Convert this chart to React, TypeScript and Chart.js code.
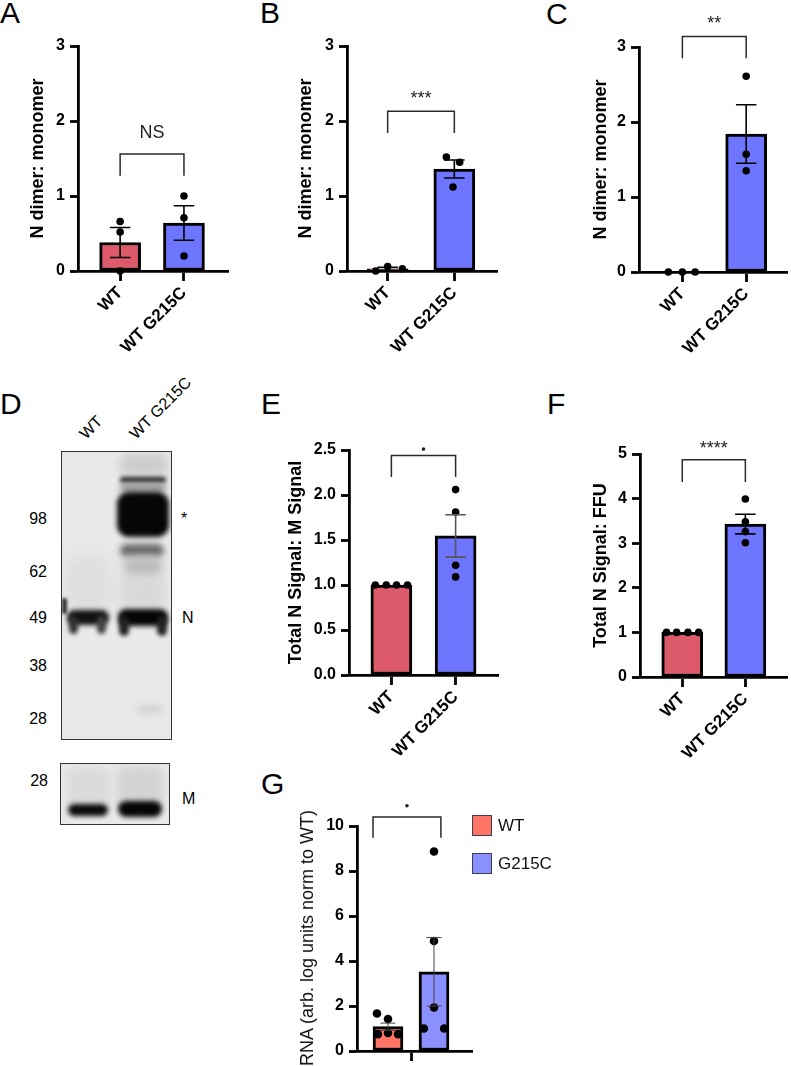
import { useEffect, useRef } from 'react'
import { Chart, registerables } from 'chart.js'
Chart.register(...registerables)

const FONT = '"Liberation Sans", Arial, Helvetica, sans-serif'
Chart.defaults.font.family = FONT
Chart.defaults.color = '#000'

const RED = '#DC5A69'
const BLUE = '#6E76FF'
const SALMON = '#FF7464'
const PERI = '#8A90FF'

// x position 1 = WT, 2 = WT G215C
const categories = ['WT', 'WT G215C']

// A
const aMeans = [0.38, 0.64]
const aSem = [0.2, 0.23]
const aWT = [0.66, 0.52, 0.0]
const aMut = [1.0, 0.71, 0.2]
const aWTJit = [0, 0, 0]
const aMutJit = [0, 0, 0]
const aSig = { top: 1.56, leg: 1.27, label: 'NS', labelY: 1.84 }

// B
const bMeans = [0.03, 1.36]
const bSem = [0.02, 0.12]
const bWT = [0.0, 0.06, 0.03]
const bMut = [1.52, 1.45, 1.12]
const bWTJit = [-0.18, 0, 0.22]
const bMutJit = [-0.12, 0.08, -0.02]
const bSig = { top: 2.13, leg: 1.84, label: '***', labelY: 2.35 }

// C
const cMeans = [0, 1.84]
const cSem = [0, 0.39]
const cWT = [0, 0, 0]
const cMut = [2.61, 1.57, 1.35]
const cWTJit = [-0.22, 0, 0.2]
const cMutJit = [0, 0, 0]
const cSig = { top: 3.14, leg: 2.85, label: '**', labelY: 3.36 }

// E
const eMeans = [1.0, 1.545]
const eSem = [0, 0.235]
const eWT = [1, 1, 1, 1]
const eMut = [2.06, 1.81, 1.22, 1.09]
const eWTJit = [-0.25, -0.08, 0.08, 0.25]
const eMutJit = [0, 0, 0, 0]
const eSig = { top: 2.44, leg: 2.2, label: '·', labelY: 2.51 }

// F
const fMeans = [1.0, 3.43]
const fSem = [0, 0.22]
const fWT = [1, 1, 1, 1]
const fMut = [3.99, 3.48, 3.26, 3.01]
const fWTJit = [-0.25, -0.09, 0.09, 0.26]
const fMutJit = [0, 0, 0, 0]
const fSig = { top: 4.87, leg: 4.37, label: '****', labelY: 5.2 }

// G
const gMeans = [1.08, 3.52]
const gSem = [0.16, 1.52]
const gWT = [1.67, 1.42, 0.75, 0.8, 0.75]
const gMut = [8.87, 4.89, 1.93, 1.0, 1.0]
const gWTJit = [-0.24, 0, -0.22, 0, 0.22]
const gMutJit = [0, 0, 0, -0.22, 0.22]
const gSig = { top: 10.4, leg: 9.48, label: '·', labelY: 10.9, from: 0.674, to: 2.15 }

// blot marker ladder (kDa)
const ladder = ['98', '62', '49', '38', '28']
const ladderY = [519, 572, 618, 666, 719]

interface Sig { top: number; leg: number; label: string; labelY: number; from?: number; to?: number }

interface PanelProps {
  left: number; top: number; width: number; height: number
  area: [number, number, number, number]
  xRange: [number, number]
  xTicks: number[]; xLabels: string[]
  yMax: number; yStep: number; yDec: number
  title?: string; titleX?: number
  means: number[]; sem: number[]
  points: number[][]; jitter: number[][]
  colors: string[]
  barWidth: number; dot: number
  errColor: string; errWidth: number
  sig: Sig
}

function BarPanel(p: PanelProps) {
  const ref = useRef<HTMLCanvasElement>(null)

  useEffect(() => {
    if (!ref.current) return
    const [l, t, r, b] = p.area
    const yW = l - p.left
    const xH = p.top + p.height - b

    const overlay = {
      id: 'overlay',
      afterDatasetsDraw(chart: any) {
        const ctx = chart.ctx
        const xs = chart.scales.x, ys = chart.scales.y
        ctx.save()
        // error bars (mean ± SEM)
        ctx.strokeStyle = p.errColor
        ctx.lineWidth = p.errWidth
        const cap = p.barWidth / 4
        p.means.forEach((m, i) => {
          const s = p.sem[i]
          if (!s) return
          const cx = xs.getPixelForValue(i + 1)
          const y1 = ys.getPixelForValue(m + s)
          const y0 = ys.getPixelForValue(Math.max(0, m - s))
          ctx.beginPath()
          ctx.moveTo(cx, y0); ctx.lineTo(cx, y1)
          ctx.moveTo(cx - cap, y1); ctx.lineTo(cx + cap, y1)
          ctx.moveTo(cx - cap, y0); ctx.lineTo(cx + cap, y0)
          ctx.stroke()
        })
        // significance bracket
        const sg = p.sig
        const x1 = xs.getPixelForValue(sg.from ?? 1)
        const x2 = xs.getPixelForValue(sg.to ?? 2)
        const yt = ys.getPixelForValue(sg.top)
        const yl = ys.getPixelForValue(sg.leg)
        ctx.strokeStyle = '#2a2a2a'
        ctx.lineWidth = 1.5
        ctx.beginPath()
        ctx.moveTo(x1, yl); ctx.lineTo(x1, yt); ctx.lineTo(x2, yt); ctx.lineTo(x2, yl)
        ctx.stroke()
        const yText = ys.getPixelForValue(sg.labelY)
        ctx.fillStyle = '#222'
        if (sg.label === '·') {
          ctx.beginPath()
          ctx.arc((x1 + x2) / 2, yText, 1.8, 0, Math.PI * 2)
          ctx.fill()
        } else {
          ctx.font = `18px ${FONT}`
          ctx.textAlign = 'center'
          ctx.textBaseline = 'middle'
          ctx.fillText(sg.label, (x1 + x2) / 2, yText + (sg.label.includes('*') ? 4 : 0))
        }
        ctx.restore()
      },
    }

    const pts: { x: number; y: number }[] = []
    p.points.forEach((arr, i) => arr.forEach((v, j) => pts.push({ x: i + 1 + p.jitter[i][j], y: v })))

    const axisBorder = { display: true, color: '#000', width: 2.8 }
    const chart = new Chart(ref.current, {
      type: 'bar',
      data: {
        datasets: [
          {
            type: 'scatter', data: pts, order: 0, clip: false,
            pointRadius: p.dot, pointBackgroundColor: '#000', pointBorderWidth: 0,
          } as any,
          {
            type: 'bar', order: 1,
            data: p.means.map((m, i) => ({ x: i + 1, y: m })),
            backgroundColor: p.colors, borderColor: '#000', borderWidth: 3,
            borderSkipped: false, barThickness: p.barWidth,
          } as any,
        ],
      },
      options: {
        responsive: false, animation: false,
        layout: { padding: { left: 0, top: t - p.top, right: p.left + p.width - r, bottom: 0 } },
        plugins: { legend: { display: false }, tooltip: { enabled: false } },
        scales: {
          x: {
            type: 'linear', min: p.xRange[0], max: p.xRange[1], offset: false,
            afterBuildTicks: (s: any) => { s.ticks = p.xTicks.map(v => ({ value: v })) },
            afterFit: (s: any) => { s.height = xH },
            ticks: {
              autoSkip: false, minRotation: 45, maxRotation: 45, padding: 2,
              font: { size: 17, weight: 'bold' },
              callback: (v: any) => p.xLabels[p.xTicks.indexOf(Number(v))] ?? '',
            },
            grid: { offset: false, drawOnChartArea: false, drawTicks: true, tickLength: 10, tickWidth: 2.8, tickColor: '#000' },
            border: axisBorder,
          },
          y: {
            min: 0, max: p.yMax,
            afterFit: (s: any) => { s.width = yW },
            ticks: { stepSize: p.yStep, padding: 5, font: { size: 16, weight: 'bold' }, callback: (v: any) => Number(v).toFixed(p.yDec) },
            grid: { drawOnChartArea: false, drawTicks: true, tickLength: 8, tickWidth: 2.8, tickColor: '#000' },
            border: axisBorder,
            title: {
              display: !!p.title, text: p.title ?? '', color: '#000',
              font: { size: 18, weight: 'bold' },
              padding: { top: (p.titleX ?? 0) - p.left - 10.8, bottom: 0 },
            },
          },
        },
      } as any,
      plugins: [overlay],
    })
    return () => chart.destroy()
  }, [])

  return (
    <canvas ref={ref} width={p.width} height={p.height}
      style={{ position: 'absolute', left: p.left, top: p.top, width: p.width, height: p.height }} />
  )
}

function Letter({ x, y, ch }: { x: number; y: number; ch: string }) {
  return <div style={{ position: 'absolute', left: x, top: y, fontSize: 30, lineHeight: '30px' }}>{ch}</div>
}

function Band({ x, y, w, h, c, blur = 2, r = 8 }: { x: number; y: number; w: number; h: number; c: string; blur?: number; r?: number }) {
  return <div style={{ position: 'absolute', left: x, top: y, width: w, height: h, background: c, filter: `blur(${blur}px)`, borderRadius: r }} />
}

function Blot() {
  const box = { position: 'absolute' as const, border: '1.5px solid #333', boxSizing: 'border-box' as const, overflow: 'hidden', background: '#e9e9e9' }
  const lane = { position: 'absolute' as const, fontSize: 16, lineHeight: '16px', transformOrigin: '0 100%', transform: 'rotate(-45deg)', whiteSpace: 'nowrap' as const }
  const mark = { position: 'absolute' as const, fontSize: 16, lineHeight: '18px' }
  return (
    <>
      <div style={{ ...lane, left: 88, top: 426 }}>WT</div>
      <div style={{ ...lane, left: 138, top: 426 }}>WT G215C</div>
      {ladder.map((m, i) => (
        <div key={m + i} style={{ ...mark, left: 0, width: 47, textAlign: 'right', top: ladderY[i] - 9 }}>{m}</div>
      ))}
      <div style={{ ...mark, left: 0, width: 48, textAlign: 'right', top: 772 }}>28</div>
      <div style={{ ...mark, left: 181, top: 510 }}>*</div>
      <div style={{ ...mark, left: 182, top: 609 }}>N</div>
      <div style={{ ...mark, left: 182, top: 790 }}>M</div>

      <div style={{ ...box, left: 61, top: 451, width: 111, height: 289 }}>
        <Band x={4} y={105} w={44} h={55} c="#dedede" blur={7} />
        <Band x={5} y={158} w={42} h={15} c="#111" blur={2.5} />
        <Band x={7} y={164} w={9} h={18} c="#333" blur={2} r={5} />
        <Band x={35} y={164} w={9} h={18} c="#444" blur={2} r={5} />
        <Band x={0} y={146} w={5} h={16} c="#333" blur={1.5} r={2} />

        <Band x={58} y={2} w={48} h={22} c="#cdcdcd" blur={4} />
        <Band x={58} y={25} w={46} h={6} c="#222" blur={2} />
        <Band x={58} y={31} w={46} h={10} c="#999" blur={3} />
        <Band x={55} y={40} w={52} h={45} c="#060606" blur={2.5} r={12} />
        <Band x={58} y={92} w={44} h={13} c="#666" blur={3} />
        <Band x={62} y={104} w={38} h={22} c="#bcbcbc" blur={5} />
        <Band x={58} y={125} w={46} h={32} c="#d8d8d8" blur={6} />
        <Band x={56} y={157} w={50} h={17} c="#060606" blur={2.5} />
        <Band x={57} y={164} w={10} h={20} c="#222" blur={2} r={5} />
        <Band x={95} y={164} w={10} h={20} c="#222" blur={2} r={5} />
        <Band x={75} y={252} w={25} h={10} c="#d4d4d4" blur={3} />
      </div>

      <div style={{ ...box, left: 60, top: 763, width: 110, height: 62 }}>
        <Band x={6} y={3} w={42} h={40} c="#dadada" blur={5} />
        <Band x={7} y={40} w={40} h={12} c="#0a0a0a" blur={2.5} />
        <Band x={56} y={2} w={46} h={42} c="#d3d3d3" blur={5} />
        <Band x={57} y={37} w={44} h={16} c="#060606" blur={2.5} />
      </div>
    </>
  )
}

export default function App() {
  const common = { xTicks: [1, 2], xLabels: categories, barWidth: 41, dot: 3.8, errColor: '#000', errWidth: 1.6 }
  return (
    <div style={{ position: 'absolute', left: 0, top: 0, width: 791, height: 1066, overflow: 'hidden', background: '#fff', fontFamily: FONT, color: '#000' }}>
      <Letter x={0} y={-2} ch="A" />
      <Letter x={260} y={-2} ch="B" />
      <Letter x={546} y={-1} ch="C" />
      <Letter x={0} y={389} ch="D" />
      <Letter x={261} y={389} ch="E" />
      <Letter x={547} y={389} ch="F" />
      <Letter x={261} y={769} ch="G" />

      <BarPanel {...common} left={0} top={0} width={240} height={370} area={[78, 46, 228, 271]} xRange={[0.34, 2.69]}
        yMax={3} yStep={1} yDec={0} title="N dimer: monomer" titleX={38.5}
        means={aMeans} sem={aSem} points={[aWT, aMut]} jitter={[aWTJit, aMutJit]} colors={[RED, BLUE]} sig={aSig} />
      <BarPanel {...common} left={268} top={0} width={241} height={370} area={[347, 46, 497, 271]} xRange={[0.39, 2.64]}
        yMax={3} yStep={1} yDec={0} title="N dimer: monomer" titleX={306}
        means={bMeans} sem={bSem} points={[bWT, bMut]} jitter={[bWTJit, bMutJit]} colors={[RED, BLUE]} sig={bSig} />
      <BarPanel {...common} left={560} top={0} width={231} height={370} area={[639, 47, 789, 272]} xRange={[0.32, 2.64]}
        yMax={3} yStep={1} yDec={0} title="N dimer: monomer" titleX={601.5}
        means={cMeans} sem={cSem} points={[cWT, cMut]} jitter={[cWTJit, cMutJit]} colors={[RED, BLUE]} sig={cSig} />

      <Blot />

      <BarPanel {...common} errColor="#555" left={262} top={400} width={248} height={370} area={[349, 450, 498, 675]} xRange={[0.34, 2.66]}
        yMax={2.5} yStep={0.5} yDec={1} title="Total N Signal: M Signal" titleX={296}
        means={eMeans} sem={eSem} points={[eWT, eMut]} jitter={[eWTJit, eMutJit]} colors={[RED, BLUE]} sig={eSig} />
      <BarPanel {...common} left={560} top={400} width={231} height={370} area={[640, 454, 790, 677]} xRange={[0.33, 2.66]}
        yMax={5} yStep={1} yDec={0} title="Total N Signal: FFU" titleX={601.5}
        means={fMeans} sem={fSem} points={[fWT, fMut]} jitter={[fWTJit, fMutJit]} colors={[RED, BLUE]} sig={fSig} />

      <BarPanel left={300} top={785} width={190} height={281} area={[357, 826, 472, 1051]} xRange={[0.326, 2.826]}
        xTicks={[1.5]} xLabels={['']} barWidth={30} dot={4.3} errColor="#444" errWidth={1}
        yMax={10} yStep={2} yDec={0}
        means={gMeans} sem={gSem} points={[gWT, gMut]} jitter={[gWTJit, gMutJit]} colors={[SALMON, PERI]} sig={gSig} />

      <div style={{ position: 'absolute', left: 307, top: 938, transform: 'translate(-50%, -50%) rotate(-90deg)', whiteSpace: 'nowrap', fontSize: 18, lineHeight: '20px', color: '#111' }}>
        RNA (arb. log units norm to WT)
      </div>

      {[{ label: 'WT', c: SALMON, y: 815 }, { label: 'G215C', c: PERI, y: 853 }].map(k => (
        <div key={k.label}>
          <div style={{ position: 'absolute', left: 472, top: k.y, width: 20, height: 21, background: k.c, border: '1.5px solid #3a3f55', boxSizing: 'border-box' }} />
          <div style={{ position: 'absolute', left: 498, top: k.y + 1, fontSize: 17, lineHeight: '20px', color: '#111' }}>{k.label}</div>
        </div>
      ))}
    </div>
  )
}
